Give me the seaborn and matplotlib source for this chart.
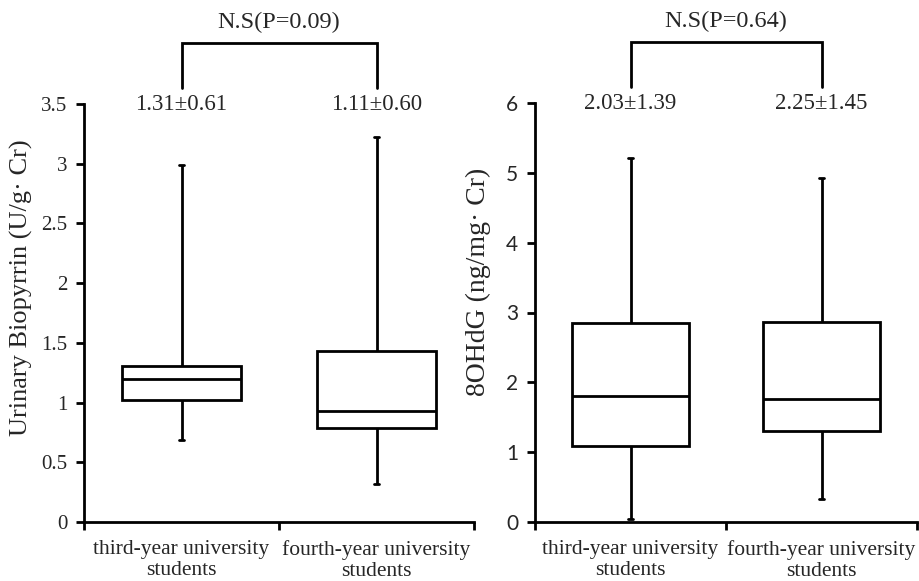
import numpy as np
import pandas as pd
import matplotlib
matplotlib.use('Agg')
import matplotlib.pyplot as plt
import seaborn as sns

# categorias e resumos das caixas (min, Q1, mediana, Q3, max)
grupos = ['third-year university\nstudents', 'fourth-year university\nstudents']
biopyrrin_3 = [0.69, 1.02, 1.20, 1.31, 2.99]
biopyrrin_4 = [0.32, 0.79, 0.93, 1.43, 3.22]
ohdg_3 = [0.05, 1.09, 1.81, 2.85, 5.21]
ohdg_4 = [0.33, 1.31, 1.76, 2.87, 4.92]

medias_bio = ['1.31±0.61', '1.11±0.60']
medias_ohdg = ['2.03±1.39', '2.25±1.45']
p_bio = 'N.S(P=0.09)'
p_ohdg = 'N.S(P=0.64)'

sns.set_style('white')
plt.rcParams['font.family'] = ['Liberation Serif', 'DejaVu Serif']

# com 5 valores, os percentis 25/50/75 caem exatamente em Q1/mediana/Q3
df_bio = pd.DataFrame({'grupo': [grupos[0]] * 5 + [grupos[1]] * 5,
                       'valor': biopyrrin_3 + biopyrrin_4})
df_ohdg = pd.DataFrame({'grupo': [grupos[0]] * 5 + [grupos[1]] * 5,
                        'valor': ohdg_3 + ohdg_4})

fig = plt.figure(figsize=(9.19, 5.81), dpi=100)
ax1 = fig.add_axes([84 / 919, 1 - 522 / 581, 390 / 919, 418 / 581])
ax2 = fig.add_axes([535 / 919, 1 - 522 / 581, 382 / 919, 419 / 581])


def desenhar(ax, df, ymax, ystep, ylabel, medias, ptexto, tick_font,
             lsize, lpos):
    sns.boxplot(data=df, x='grupo', y='valor', order=grupos, ax=ax,
                whis=(0, 100), width=0.61, fill=True, color='white',
                linecolor='black', linewidth=2, showfliers=False)
    for box in ax.containers:
        for cap in box.caps:
            xs = cap.get_xdata()
            c = np.mean(xs)
            cap.set_xdata([c - 0.012, c + 0.012])
    ax.set_xlim(-0.5, 1.5)
    ax.set_ylim(0, ymax)
    ax.set_yticks(np.arange(0, ymax + 0.001, ystep))
    ax.set_yticklabels([f'{v:g}' for v in np.arange(0, ymax + 0.001, ystep)],
                       family=tick_font, fontsize=15)
    ax.set_xticks([0, 1])
    ax.set_xticklabels(grupos, fontsize=15.5, linespacing=1.12)
    ax.set_xticks([-0.5, 0.5, 1.5], minor=True)
    ax.tick_params(axis='x', which='major', length=0, pad=13)
    ax.tick_params(axis='x', which='minor', length=6, width=2, direction='out',
                   bottom=True, color='black')
    ax.tick_params(axis='y', length=6, width=2, direction='out', left=True,
                   color='black', pad=6)
    ax.set_xlabel('')
    ax.set_ylabel(ylabel, fontsize=lsize)
    ax.yaxis.set_label_coords(*lpos)
    for s in ['top', 'right']:
        ax.spines[s].set_visible(False)
    for s in ['left', 'bottom']:
        ax.spines[s].set_linewidth(2)
        ax.spines[s].set_color('black')

    tr = ax.get_xaxis_transform()
    for i, m in enumerate(medias):
        ax.text(i, 0.998, m, transform=tr, ha='center', va='center',
                fontsize=16.5, clip_on=False)
    ax.plot([0, 0, 1, 1], [1.038, 1.146, 1.146, 1.038], transform=tr,
            color='black', lw=2, clip_on=False, solid_joinstyle='miter')
    ax.text(0.5, 1.195, ptexto, transform=tr, ha='center', va='center',
            fontsize=17.5, clip_on=False)


desenhar(ax1, df_bio, 3.5, 0.5, 'Urinary Biopyrrin (U/g· Cr)', medias_bio,
         p_bio, 'Liberation Serif', 19, (-0.131, 0.56))
desenhar(ax2, df_ohdg, 6, 1, '8OHdG (ng/mg· Cr)', medias_ohdg,
         p_ohdg, 'Lato', 20, (-0.115, 0.573))

fig.savefig('out.png', dpi=100)
